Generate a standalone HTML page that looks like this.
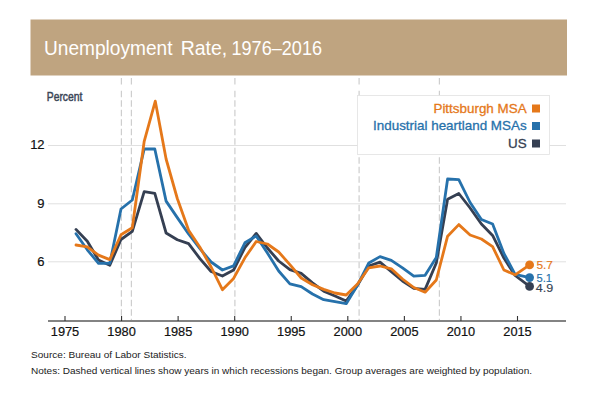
<!DOCTYPE html>
<html><head><meta charset="utf-8"><title>Unemployment Rate, 1976-2016</title>
<style>
html,body{margin:0;padding:0;background:#fff;}
body{width:600px;height:400px;overflow:hidden;font-family:"Liberation Sans",sans-serif;}
svg{display:block;}
text{font-family:"Liberation Sans",sans-serif;}
.title{font-size:19.7px;fill:#fff;}
.tl{font-size:12.8px;fill:#111;stroke:#111;stroke-width:0.2px;}
.yl{font-size:13px;fill:#111;stroke:#111;stroke-width:0.2px;}
.pc{font-size:12.1px;fill:#3a4556;}
.lg{font-size:13.42px;stroke-width:0.3px;}
.ft{font-size:9.4px;fill:#222;}
.el{font-size:11.3px;stroke-width:0.15px;}
</style></head><body>
<svg width="600" height="400" viewBox="0 0 600 400">
<rect x="0" y="0" width="600" height="400" fill="#fff"/>
<line x1="121.4" y1="90.7" x2="121.4" y2="320" stroke="#cecece" stroke-width="1.2" stroke-dasharray="6.5 3"/><line x1="121.4" y1="77.9" x2="121.4" y2="84.5" stroke="#cecece" stroke-width="1.2"/><line x1="131.4" y1="90.7" x2="131.4" y2="320" stroke="#cecece" stroke-width="1.2" stroke-dasharray="6.5 3"/><line x1="131.4" y1="77.9" x2="131.4" y2="84.5" stroke="#cecece" stroke-width="1.2"/><line x1="234.9" y1="90.7" x2="234.9" y2="320" stroke="#cecece" stroke-width="1.2" stroke-dasharray="6.5 3"/><line x1="234.9" y1="77.9" x2="234.9" y2="84.5" stroke="#cecece" stroke-width="1.2"/><line x1="359.1" y1="90.7" x2="359.1" y2="320" stroke="#cecece" stroke-width="1.2" stroke-dasharray="6.5 3"/><line x1="359.1" y1="77.9" x2="359.1" y2="84.5" stroke="#cecece" stroke-width="1.2"/><line x1="439.4" y1="90.7" x2="439.4" y2="320" stroke="#cecece" stroke-width="1.2" stroke-dasharray="6.5 3"/><line x1="439.4" y1="77.9" x2="439.4" y2="84.5" stroke="#cecece" stroke-width="1.2"/>
<rect x="30.5" y="19.5" width="536.5" height="56" fill="#bfa480"/>
<text x="44" y="55.1" class="title" textLength="128.5" lengthAdjust="spacingAndGlyphs">Unemployment</text>
<text x="180.7" y="55.1" class="title" textLength="46.5" lengthAdjust="spacingAndGlyphs">Rate,</text>
<text x="231.5" y="55.1" class="title" textLength="90.5" lengthAdjust="spacingAndGlyphs">1976–2016</text>
<line x1="48" y1="145.5" x2="566" y2="145.5" stroke="#e0e0e0" stroke-width="1"/><line x1="48" y1="203.8" x2="566" y2="203.8" stroke="#e0e0e0" stroke-width="1"/><line x1="48" y1="261.8" x2="566" y2="261.8" stroke="#e0e0e0" stroke-width="1"/>
<text x="46.8" y="101.1" class="pc" textLength="35.6" lengthAdjust="spacingAndGlyphs" stroke="#3a4556" stroke-width="0.45">Percent</text>
<text x="44.6" y="148.9" text-anchor="end" class="yl">12</text>
<text x="44.6" y="207.9" text-anchor="end" class="yl">9</text>
<text x="44.6" y="266.1" text-anchor="end" class="yl">6</text>
<rect x="357.5" y="95.5" width="192" height="59" fill="#fff" stroke="#e2e2e2" stroke-width="0.8"/>
<text x="526.6" y="112.8" text-anchor="end" class="lg" fill="#e5781a" stroke="#e5781a">Pittsburgh MSA</text>
<text x="526.6" y="130.3" text-anchor="end" class="lg" fill="#2671ab" stroke="#2671ab">Industrial heartland MSAs</text>
<text x="526.6" y="147.8" text-anchor="end" class="lg" fill="#353f52" stroke="#353f52">US</text>
<rect x="532" y="104.5" width="8" height="8" fill="#e5781a"/>
<rect x="532" y="122" width="8" height="8" fill="#2671ab"/>
<rect x="532" y="139.5" width="8" height="8" fill="#353f52"/>
<g fill="none" stroke-width="2.8" stroke-linejoin="round" stroke-linecap="round">
<path d="M76.0,229.4 L87.3,241.3 L98.5,260.0 L109.8,265.2 L121.0,239.5 L132.3,231.3 L144.2,191.6 L154.8,193.3 L166.1,233.0 L177.3,239.7 L188.6,243.6 L199.9,258.6 L211.1,271.5 L222.4,276.0 L233.6,270.0 L244.9,247.5 L256.2,233.4 L267.4,248.0 L278.7,261.0 L289.9,269.7 L301.2,273.4 L312.5,282.8 L323.7,291.2 L335.0,296.0 L346.2,301.0 L357.5,285.2 L368.8,266.0 L380.0,262.2 L391.3,271.6 L402.5,281.0 L413.8,288.4 L425.1,289.4 L436.3,263.0 L447.6,199.2 L458.8,193.5 L470.1,208.0 L481.4,224.0 L492.6,235.4 L503.9,258.0 L515.1,275.5 L529.6,286.4" stroke="#353f52"/>
<path d="M76.0,233.7 L87.3,249.8 L98.5,263.3 L109.8,263.4 L121.0,209.0 L132.3,200.0 L144.2,149.0 L154.8,149.0 L166.1,201.1 L177.3,217.6 L188.6,234.0 L199.9,248.7 L211.1,262.0 L222.4,270.0 L233.6,265.9 L244.9,242.8 L256.2,235.9 L267.4,253.0 L278.7,271.0 L289.9,283.8 L301.2,286.6 L312.5,294.0 L323.7,299.7 L335.0,301.6 L346.2,303.7 L357.5,285.2 L368.8,263.0 L380.0,256.6 L391.3,260.3 L402.5,267.8 L413.8,276.2 L425.1,275.3 L436.3,257.5 L447.6,179.0 L458.8,179.6 L470.1,202.5 L481.4,219.5 L492.6,224.0 L503.9,253.4 L515.1,274.3 L529.6,277.6" stroke="#2671ab"/>
<path d="M76.0,245.0 L87.3,246.8 L98.5,255.1 L109.8,259.6 L121.0,234.7 L132.3,227.8 L144.2,141.3 L155.3,101.2 L166.1,159.0 L177.3,198.5 L188.6,230.3 L199.9,247.2 L211.1,267.0 L222.4,289.7 L233.6,278.4 L244.9,257.8 L256.2,241.5 L267.4,244.0 L278.7,252.0 L289.9,264.6 L301.2,278.0 L312.5,284.7 L323.7,289.4 L335.0,293.0 L346.2,295.0 L357.5,284.0 L368.8,267.8 L380.0,266.0 L391.3,268.8 L402.5,279.0 L413.8,287.5 L425.1,292.2 L436.3,280.0 L447.6,236.2 L458.8,224.6 L470.1,235.0 L481.4,239.0 L492.6,246.6 L503.9,270.0 L515.1,274.8 L529.6,264.9" stroke="#e5781a"/>
</g>
<circle cx="529.6" cy="286.4" r="4.4" fill="#353f52"/>
<circle cx="529.6" cy="277.6" r="4.4" fill="#2671ab"/>
<circle cx="529.6" cy="264.9" r="4.4" fill="#e5781a"/>
<text x="536.4" y="268.5" class="el" fill="#e5781a" stroke="#e5781a" textLength="16.6" lengthAdjust="spacingAndGlyphs">5.7</text>
<text x="536.4" y="281.5" class="el" fill="#2671ab" stroke="#2671ab" textLength="15.6" lengthAdjust="spacingAndGlyphs">5.1</text>
<text x="535.8" y="292" class="el" fill="#353f52" stroke="#353f52" textLength="17.4" lengthAdjust="spacingAndGlyphs">4.9</text>
<line x1="48" y1="321" x2="566" y2="321" stroke="#5a5a5a" stroke-width="1.6"/>
<line x1="65.00" y1="316" x2="65.00" y2="321" stroke="#333" stroke-width="1.1"/><line x1="121.56" y1="316" x2="121.56" y2="321" stroke="#333" stroke-width="1.1"/><line x1="178.12" y1="316" x2="178.12" y2="321" stroke="#333" stroke-width="1.1"/><line x1="234.69" y1="316" x2="234.69" y2="321" stroke="#333" stroke-width="1.1"/><line x1="291.25" y1="316" x2="291.25" y2="321" stroke="#333" stroke-width="1.1"/><line x1="347.81" y1="316" x2="347.81" y2="321" stroke="#333" stroke-width="1.1"/><line x1="404.38" y1="316" x2="404.38" y2="321" stroke="#333" stroke-width="1.1"/><line x1="460.94" y1="316" x2="460.94" y2="321" stroke="#333" stroke-width="1.1"/><line x1="517.50" y1="316" x2="517.50" y2="321" stroke="#333" stroke-width="1.1"/>
<text x="65.00" y="336.3" text-anchor="middle" class="tl">1975</text><text x="121.56" y="336.3" text-anchor="middle" class="tl">1980</text><text x="178.12" y="336.3" text-anchor="middle" class="tl">1985</text><text x="234.69" y="336.3" text-anchor="middle" class="tl">1990</text><text x="291.25" y="336.3" text-anchor="middle" class="tl">1995</text><text x="347.81" y="336.3" text-anchor="middle" class="tl">2000</text><text x="404.38" y="336.3" text-anchor="middle" class="tl">2005</text><text x="460.94" y="336.3" text-anchor="middle" class="tl">2010</text><text x="517.50" y="336.3" text-anchor="middle" class="tl">2015</text>
<text x="31" y="358" class="ft" textLength="155.5" lengthAdjust="spacingAndGlyphs">Source: Bureau of Labor Statistics.</text>
<text x="31" y="373.9" class="ft" textLength="501" lengthAdjust="spacingAndGlyphs">Notes: Dashed vertical lines show years in which recessions began. Group averages are weighted by population.</text>
</svg>
</body></html>
